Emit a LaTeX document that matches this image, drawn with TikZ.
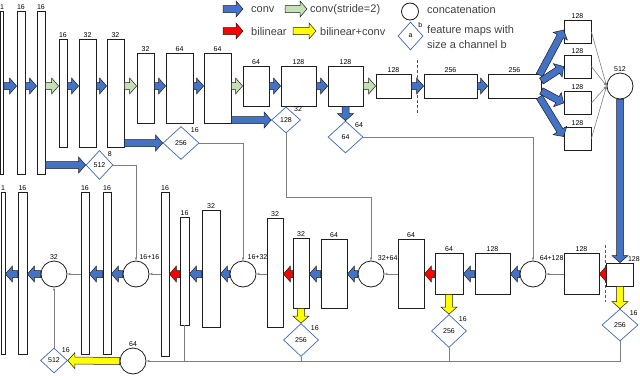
\documentclass[tikz,border=0pt]{standalone}
\usepackage{fontspec}
\setmainfont{Liberation Sans}
\usetikzlibrary{arrows.meta, positioning, calc, shapes.geometric}
\definecolor{convblue}{HTML}{4472C4}
\definecolor{stridegreen}{HTML}{C5E0B4}
\definecolor{upred}{HTML}{FF0000}
\definecolor{upyellow}{HTML}{FFFF00}
\definecolor{dmblue}{HTML}{3F68B5}
\definecolor{wire}{HTML}{7F7F7F}
\definecolor{ink}{HTML}{1E1E1E}

\tikzset{
  lbl/.style={font=\fontsize{7}{8}\selectfont, inner sep=1pt},
  fmap/.style 2 args={draw=ink, line width=0.8pt, fill=white, inner sep=0pt,
    minimum width=#1pt, minimum height=#2pt, label distance=2pt},
  enc/.style={label distance=5pt},
  concat/.style={circle, draw=ink, line width=0.8pt, fill=white, inner sep=0pt,
    minimum size=26pt, label distance=1pt},
  featdia/.style 2 args={diamond, draw=dmblue, line width=0.7pt, fill=white, inner sep=0pt,
    minimum width=#1pt, minimum height=#2pt, font=\fontsize{7}{8}\selectfont},
  blockline/.style={draw=ink, line width=0.5pt, line join=miter},
  link/.style={draw=wire, line width=0.6pt, -{Latex[length=3pt, width=2.6pt]}},
  plain/.style={draw=wire, line width=0.6pt},
  cut/.style={draw=ink!75, line width=0.8pt, dash pattern=on 3pt off 2pt},
  legtext/.style={font=\fontsize{11}{14.5}\selectfont, anchor=west, inner sep=1pt,
    text=ink!85, align=left}
}

% fat block arrow: #1 fill, #2 tail, #3 tip
\newcommand{\blockarr}[3]{%
  \draw[blockline, fill=#1] let \p1=(#2), \p2=(#3),
    \n1={atan2(\y2-\y1,\x2-\x1)}, \n2={veclen(\x2-\x1,\y2-\y1)} in
    ($(\p1)+({\n1+90}:3.5pt)$) -- ($(\p1)+(\n1:{(\n2-7)*1pt})+({\n1+90}:3.5pt)$)
    -- ($(\p1)+(\n1:{(\n2-7)*1pt})+({\n1+90}:8pt)$) -- (\p2)
    -- ($(\p1)+(\n1:{(\n2-7)*1pt})+({\n1-90}:8pt)$)
    -- ($(\p1)+(\n1:{(\n2-7)*1pt})+({\n1-90}:3.5pt)$)
    -- ($(\p1)+({\n1-90}:3.5pt)$) -- cycle;}

\begin{document}
\begin{tikzpicture}[x=1pt, y=-1pt]

\useasboundingbox (0,0) rectangle (640,375);

% ================================================================
% LEGEND
% ================================================================
\blockarr{convblue}{223,9}{243,9}
\node[legtext] (tconv) at (250,10) {conv};
\blockarr{stridegreen}{285,9}{307,9}
\node[legtext] (tstride) at (309,10) {conv(stride=2)};
\blockarr{upred}{223,31}{243,31}
\node[legtext] (tbil) at (250,32) {bilinear};
\blockarr{upyellow}{293,31}{316,31}
\node[legtext] (tbilconv) at (319,32) {bilinear+conv};

\node[concat, minimum size=17pt] (lgcat) at (410,11.5) {};
\node[legtext] (tcat) at (426,10) {concatenation};
\node[featdia={25}{28}, label={[lbl, anchor=south west]45:b}] (lgfeat) at (410.5,36) {a};
\node[legtext] (tfeat) at (426,37) {feature maps with\\size a channel b};

% ================================================================
% ENCODER (top row)
% ================================================================
\coordinate (erow) at (0,86);

\node[fmap={3}{163}, label={[lbl]above:1}] (e0) at (2,92.5) {};
\node[fmap={8}{163}, label={[lbl]above:16}] (e1) at (21,92.5) {};
\node[fmap={8}{163}, label={[lbl]above:16}] (e2) at (41,92.5) {};
\node[fmap={8}{108}, enc, label={[lbl]above:16}] (e3) at (63,93) {};
\node[fmap={17}{108}, enc, label={[lbl]above:32}] (e4) at (87.5,93) {};
\node[fmap={17}{108}, enc, label={[lbl]above:32}] (e5) at (115.5,93) {};
\node[fmap={17}{70}, enc, label={[lbl]above:32}] (e6) at (145.5,88) {};
\node[fmap={27}{70}, enc, label={[lbl]above:64}] (e7) at (179.5,88) {};
\node[fmap={27}{70}, enc, label={[lbl]above:64}] (e8) at (217.5,88) {};
\node[fmap={26}{40}, enc, label={[lbl]above:64}] (e9) at (256,86) {};
\node[fmap={35}{40}, enc, label={[lbl]above:128}] (e10) at (298.5,86) {};
\node[fmap={35}{40}, enc, label={[lbl]above:128}] (e11) at (345.5,86) {};
\node[fmap={35}{24}, enc, label={[lbl]above:128}] (e12) at (393.5,86) {};
\node[fmap={53}{24}, enc, label={[lbl]above:256}] (e13) at (450.5,86) {};
\node[fmap={53}{24}, enc, label={[lbl]above:256}] (e14) at (514.5,86) {};

% four parallel branches and their concatenation
\node[fmap={27}{23}, label={[lbl]above:128}] (b1) at (577.5,32) {};
\node[fmap={27}{23}, label={[lbl]above:128}] (b2) at (577.5,66.5) {};
\node[fmap={27}{23}, label={[lbl]above:128}] (b3) at (577.5,103) {};
\node[fmap={27}{23}, label={[lbl]above:128}] (b4) at (577.5,138.5) {};
\node[concat, label={[lbl]above:512}] (c1) at (620,86) {};

% cut between stages
\draw[cut] (417,60) -- (417,115);

% encoder arrows
\blockarr{convblue}{e0.east |- erow}{e1.west |- erow}
\blockarr{convblue}{e1.east |- erow}{e2.west |- erow}
\blockarr{stridegreen}{e2.east |- erow}{e3.west |- erow}
\blockarr{convblue}{e3.east |- erow}{e4.west |- erow}
\blockarr{convblue}{e4.east |- erow}{e5.west |- erow}
\blockarr{stridegreen}{e5.east |- erow}{e6.west |- erow}
\blockarr{convblue}{e6.east |- erow}{e7.west |- erow}
\blockarr{convblue}{e7.east |- erow}{e8.west |- erow}
\blockarr{stridegreen}{e8.east |- erow}{e9.west |- erow}
\blockarr{convblue}{e9.east |- erow}{e10.west |- erow}
\blockarr{convblue}{e10.east |- erow}{e11.west |- erow}
\blockarr{stridegreen}{e11.east |- erow}{e12.west |- erow}
\blockarr{convblue}{e12.east |- erow}{e13.west |- erow}
\blockarr{convblue}{e13.east |- erow}{e14.west |- erow}

% fan out
\blockarr{convblue}{$(e14.east)+(-2,-11)$}{$(b1.west)+(0,-2)$}
\blockarr{convblue}{$(e14.east)+(0,-5)$}{b2.west}
\blockarr{convblue}{$(e14.east)+(0,5)$}{b3.west}
\blockarr{convblue}{$(e14.east)+(-2,11)$}{$(b4.west)+(0,-2)$}
\draw[link] (b1.east) -- (c1.west);
\draw[link] (b2.east) -- (c1.west);
\draw[link] (b3.east) -- (c1.west);
\draw[link] (b4.east) -- (c1.west);

% side outputs of the encoder
\node[featdia={27}{29}, label={[lbl, anchor=south west]45:8}] (d1) at (99.5,165) {512};
\node[featdia={36}{33}, label={[lbl, anchor=south west]45:16}] (d2) at (181,143) {256};
\node[featdia={29}{26}, label={[lbl, anchor=south west]45:32}] (d3) at (286,120) {128};
\node[featdia={35}{32}, label={[lbl, anchor=south west]45:64}] (d4) at (345.5,137) {64};

\blockarr{convblue}{e2.east |- d1}{d1.west}
\blockarr{convblue}{e5.east |- d2}{d2.west}
\blockarr{convblue}{e8.east |- d3}{d3.west}
\blockarr{convblue}{e11.south}{d4.north}

% ================================================================
% DECODER (bottom row, right to left)
% ================================================================
\coordinate (drow) at (0,274);

\node[fmap={27}{23}, label={[lbl, anchor=south]north east:128}] (r1) at (620,274.5) {};
\node[fmap={35}{41}, label={[lbl]above:128}] (r2) at (581.5,273.5) {};
\node[concat, label={[lbl, anchor=south west]65:64+128}] (c2) at (533,274) {};
\node[fmap={35}{41}, label={[lbl]above:128}] (r3) at (492.5,273.5) {};
\node[fmap={28}{41}, label={[lbl]above:64}] (r4) at (449,273.5) {};
\node[fmap={26}{69}, label={[lbl]above:64}] (r5) at (411,273.5) {};
\node[concat, label={[lbl, anchor=south west]65:32+64}] (c3) at (371,274) {};
\node[fmap={26}{69}, label={[lbl]above:64}] (r6) at (334,273.5) {};
\node[fmap={16}{70}, label={[lbl]above:32}] (r7) at (301,273) {};
\node[fmap={16}{109}, label={[lbl]above:32}] (r8) at (275,272.5) {};
\node[concat, label={[lbl, anchor=south west]75:16+32}] (c4) at (243,274) {};
\node[fmap={18}{117}, label={[lbl]above:32}] (r9) at (211,268.5) {};
\node[fmap={9}{108}, label={[lbl]above:16}] (r10) at (184.5,271) {};
\node[fmap={8}{164}, label={[lbl]above:16}] (r11) at (165,274) {};
\node[concat, label={[lbl, anchor=south west]80:16+16}] (c5) at (136,274) {};
\node[fmap={8}{162}, label={[lbl]above:16}] (r12) at (107,273) {};
\node[fmap={8}{162}, label={[lbl]above:16}] (r13) at (85,273) {};
\node[concat, label={[lbl]above:32}] (c6) at (54,274) {};
\node[fmap={9}{162}, label={[lbl]above:16}] (r14) at (22.5,273) {};
\node[fmap={4}{162}, label={[lbl]above:1}] (r15) at (3,273) {};

% side outputs of the decoder
\node[featdia={36}{32}, label={[lbl, anchor=south west]45:16}] (q1) at (620,325) {256};
\node[featdia={35}{33}, label={[lbl, anchor=south west]45:16}] (q2) at (449,331) {256};
\node[featdia={35}{33}, label={[lbl, anchor=south west]45:16}] (q3) at (301,340) {256};
\node[concat, label={[lbl]above:64}] (c7) at (133,361) {};
\node[featdia={27}{25}, label={[lbl, anchor=south west]45:16}] (d5) at (54,360.5) {512};

% cut between stages
\draw[cut] (605,245) -- (605,302);

% bottleneck down to decoder
\blockarr{convblue}{c1.south}{r1.north}

% decoder arrows
\blockarr{upred}{r1.west |- drow}{r2.east |- drow}
\draw[link] (r2.west |- drow) -- (c2.east);
\blockarr{convblue}{c2.west}{r3.east |- drow}
\blockarr{convblue}{r3.west |- drow}{r4.east |- drow}
\blockarr{upred}{r4.west |- drow}{r5.east |- drow}
\draw[link] (r5.west |- drow) -- (c3.east);
\blockarr{convblue}{c3.west}{r6.east |- drow}
\blockarr{convblue}{r6.west |- drow}{r7.east |- drow}
\blockarr{upred}{r7.west |- drow}{r8.east |- drow}
\draw[link] (r8.west |- drow) -- (c4.east);
\blockarr{convblue}{c4.west}{r9.east |- drow}
\blockarr{convblue}{r9.west |- drow}{r10.east |- drow}
\blockarr{upred}{r10.west |- drow}{r11.east |- drow}
\draw[link] (r11.west |- drow) -- (c5.east);
\blockarr{convblue}{c5.west}{r12.east |- drow}
\blockarr{convblue}{r12.west |- drow}{r13.east |- drow}
\draw[link] (r13.west |- drow) -- (c6.east);
\blockarr{convblue}{c6.west}{r14.east |- drow}
\blockarr{convblue}{r14.west |- drow}{r15.east |- drow}

% upsampled outputs
\blockarr{upyellow}{r1.south}{q1.north}
\blockarr{upyellow}{r4.south}{q2.north}
\blockarr{upyellow}{r7.south}{q3.north}

% skip connections
\draw[link] (d1.east) -| (c5.north);
\draw[link] (d2.east) -| (c4.north);
\draw[link] (d3.south) -- ++(0,64) -| (c3.north);
\draw[link] (d4.east) -| (c2.north);

% gathering line along the bottom
\draw[link] (q1.south) |- (c7.east);
\draw[plain] (q2.south) -- (q2.south |- c7.east);
\draw[plain] (q3.south) -- (q3.south |- c7.east);
\draw[plain] (r10.south) -- (r10.south |- c7.east);
\blockarr{upyellow}{c7.west}{d5.east}
\draw[link] (d5.north) -- (c6.south);

\end{tikzpicture}
\end{document}
